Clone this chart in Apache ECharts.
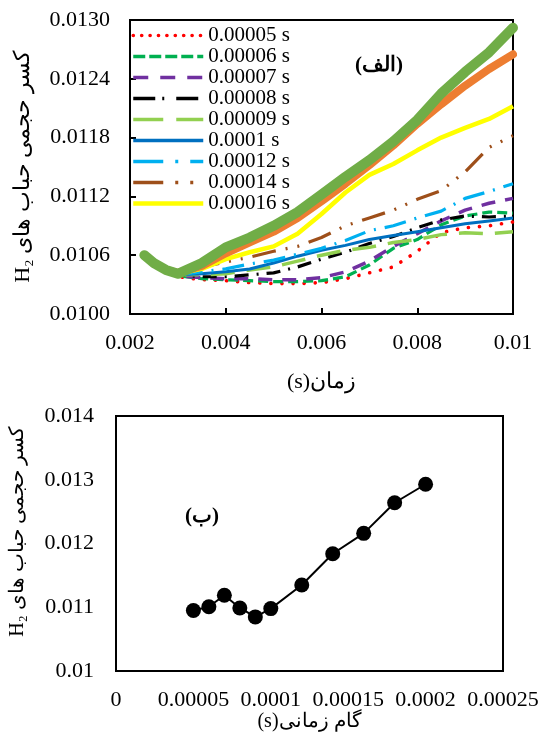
<!DOCTYPE html>
<html><head><meta charset="utf-8">
<script src="https://cdn.jsdelivr.net/npm/echarts@6/dist/echarts.min.js"></script>
<style>html,body{margin:0;padding:0;background:#fff}#c{width:544px;height:733px}</style>
</head><body><div id="c"></div>
<script>
// ---------- DATA ----------
const times = [0.0023,0.0025,0.00275,0.003,0.0035,0.004,0.0045,0.005,0.0055,0.006,0.0065,0.007,0.0075,0.008,0.0085,0.009,0.0095,0.01];
const s00005 = [0.0106,0.01052,0.01045,0.01038,0.01035,0.01034,0.01032,0.01031,0.01031,0.01032,0.01036,0.01042,0.01048,0.01064,0.01083,0.01088,0.0109,0.01094];
const s00006 = [0.0106,0.01052,0.01045,0.01039,0.01036,0.01035,0.01034,0.01033,0.01033,0.01034,0.01038,0.0105,0.01067,0.01076,0.01091,0.011,0.01104,0.01103];
const s00007 = [0.0106,0.01052,0.01045,0.01039,0.01037,0.01036,0.01036,0.01035,0.01035,0.01037,0.01043,0.01054,0.01069,0.01082,0.01095,0.01106,0.01113,0.01118];
const s00008 = [0.0106,0.01052,0.01045,0.0104,0.01038,0.01038,0.0104,0.01042,0.01048,0.01056,0.01063,0.01072,0.01079,0.01088,0.01096,0.011,0.01099,0.011];
const s00009 = [0.0106,0.01052,0.01045,0.0104,0.0104,0.01041,0.01045,0.01048,0.01054,0.0106,0.01065,0.01068,0.01073,0.01076,0.01081,0.01083,0.01082,0.01084];
const s0001  = [0.0106,0.01052,0.01045,0.0104,0.01041,0.01043,0.01046,0.01052,0.01059,0.01065,0.0107,0.01076,0.0108,0.01084,0.01088,0.01092,0.01095,0.01098];
const s00012 = [0.0106,0.01052,0.01045,0.0104,0.01043,0.01046,0.01051,0.01055,0.01061,0.01067,0.01075,0.01085,0.0109,0.01098,0.01105,0.01118,0.01125,0.01133];
const s00014 = [0.0106,0.01052,0.01045,0.0104,0.01048,0.01053,0.01058,0.01064,0.01069,0.01078,0.0109,0.01098,0.01106,0.01117,0.01126,0.01145,0.0117,0.01182];
const s00016 = [0.0106,0.01052,0.01045,0.01041,0.01046,0.01056,0.01063,0.01069,0.01082,0.01102,0.01124,0.01142,0.01153,0.01167,0.0118,0.0119,0.01199,0.01212];
const s00018 = [0.0106,0.01052,0.01045,0.01042,0.01049,0.01062,0.01073,0.01084,0.01098,0.01115,0.01133,0.01152,0.01172,0.01194,0.01214,0.01233,0.0125,0.01265];
const s00020 = [0.0106,0.01052,0.01045,0.01041,0.01052,0.01068,0.01078,0.0109,0.01104,0.01122,0.0114,0.01157,0.01176,0.01198,0.01225,0.01247,0.01267,0.01292];

const stepSizes = [0.00005,0.00006,0.00007,0.00008,0.00009,0.0001,0.00012,0.00014,0.00016,0.00018,0.0002];
const finalFractions = [0.01095,0.01101,0.01119,0.01099,0.01085,0.01098,0.01135,0.01184,0.01216,0.01264,0.01293];

const topXTicks = [0.002,0.004,0.006,0.008,0.01];
const topXLabels = ['0.002','0.004','0.006','0.008','0.01'];
const topYTicks = [0.01,0.0106,0.0112,0.0118,0.0124,0.013];
const topYLabels = ['0.0100','0.0106','0.0112','0.0118','0.0124','0.0130'];
const botXTicks = [0,0.00005,0.0001,0.00015,0.0002,0.00025];
const botXLabels = ['0','0.00005','0.0001','0.00015','0.0002','0.00025'];
const botYTicks = [0.01,0.011,0.012,0.013,0.014];
const botYLabels = ['0.01','0.011','0.012','0.013','0.014'];

const seriesNames = ['0.00005 s','0.00006 s','0.00007 s','0.00008 s','0.00009 s','0.0001 s','0.00012 s','0.00014 s','0.00016 s','0.00018 s','0.0002 s'];
const seriesValues = [s00005,s00006,s00007,s00008,s00009,s0001,s00012,s00014,s00016,s00018,s00020];

// ---------- STYLES ----------
const FONT = "'Liberation Serif','Times New Roman','DejaVu Serif',serif";
const styles = [
  {color:'#FF0000', width:3.6, type:[0.1,11], cap:'round', legType:[0.1,8.3]},
  {color:'#00B050', width:3.2, type:[10,5], cap:'butt', legType:[12,4]},
  {color:'#7030A0', width:3.5, type:[14,10], cap:'butt', legType:[15,12]},
  {color:'#000000', width:3.2, type:[14,8,2,8], cap:'butt', legType:[22,7,2,12]},
  {color:'#92D050', width:3.5, type:[24,12], cap:'butt', legType:[30,13]},
  {color:'#0070C0', width:3, type:'solid', cap:'butt', legType:'solid'},
  {color:'#00B0F0', width:3.2, type:[22,9,2,9], cap:'butt', legType:[30,12,3,12]},
  {color:'#9E4F1A', width:3.2, type:[24,10,2,10,2,10], cap:'butt', legType:[30,12,3,12,3,12]},
  {color:'#FFFF00', width:4.5, type:'solid', cap:'butt', legType:'solid'},
  {color:'#ED7D31', width:8, type:'solid', cap:'round'},
  {color:'#70AD47', width:10, type:'solid', cap:'round'}
];

function lab(ticks, labels){
  return function(v){
    for (let i=0;i<ticks.length;i++) if (Math.abs(v-ticks[i])<1e-10) return labels[i];
    return '';
  };
}

const lineSeries = seriesValues.map((vals, i) => ({
  name: seriesNames[i],
  type: 'line',
  xAxisIndex: 0, yAxisIndex: 0,
  data: times.map((t, k) => [t, vals[k]]),
  symbol: 'none',
  z: 2 + i,
  lineStyle: {color: styles[i].color, width: styles[i].width, type: styles[i].type, cap: styles[i].cap, join:'round'},
  itemStyle: {color: styles[i].color},
  emphasis: {disabled: true}
}));

const legendData = seriesNames.slice(0, 9).map((n, i) => ({
  name: n,
  itemStyle: {opacity: 0},
  lineStyle: {width: Math.max(styles[i].width, 3.5), type: styles[i].legType, cap: styles[i].cap}
}));

const axisCommon = {
  axisLine: {show: true, lineStyle: {color: '#000', width: 2}},
  splitLine: {show: false}
};
const labelStyle = {color: '#000', fontSize: 22, fontFamily: FONT};

const option = {
  animation: false,
  backgroundColor: '#fff',
  grid: [
    {left: 130, top: 20, width: 383, height: 294, show: true, borderColor: '#000', borderWidth: 2, backgroundColor: 'transparent'},
    {left: 116, top: 416, width: 387, height: 256, show: true, borderColor: '#000', borderWidth: 2, backgroundColor: 'transparent'}
  ],
  legend: {
    orient: 'vertical', left: 131, top: 25, padding: 0,
    itemWidth: 70, itemHeight: 10, itemGap: 0,
    data: legendData,
    textStyle: {color: '#000', fontSize: 21, fontFamily: FONT, lineHeight: 21},
    selectedMode: false
  },
  xAxis: [
    Object.assign({}, axisCommon, {
      gridIndex: 0, type: 'value', min: 0.002, max: 0.01,
      axisTick: {show: true, inside: true, length: 6, customValues: topXTicks, lineStyle: {color: '#000', width: 2}},
      axisLabel: Object.assign({customValues: topXTicks, formatter: lab(topXTicks, topXLabels), margin: 18}, labelStyle),
      name: '(s)زمان', nameLocation: 'middle', nameGap: 57,
      nameTextStyle: {color: '#000', fontSize: 22, fontFamily: FONT}
    }),
    Object.assign({}, axisCommon, {
      gridIndex: 1, type: 'value', min: 0, max: 0.00025,
      axisTick: {show: false},
      axisLabel: Object.assign({customValues: botXTicks, formatter: lab(botXTicks, botXLabels), margin: 18}, labelStyle),
      name: '(s)گام زمانی', nameLocation: 'middle', nameGap: 36,
      nameTextStyle: {color: '#000', fontSize: 20, fontFamily: FONT}
    })
  ],
  yAxis: [
    Object.assign({}, axisCommon, {
      gridIndex: 0, type: 'value', min: 0.01, max: 0.013,
      axisTick: {show: true, inside: true, length: 6, customValues: topYTicks, lineStyle: {color: '#000', width: 2}},
      axisLabel: Object.assign({customValues: topYTicks, formatter: lab(topYTicks, topYLabels), margin: 20}, labelStyle),
      name: 'H₂ کسر حجمی حباب های', nameLocation: 'middle', nameGap: 96, nameRotate: 90,
      nameTextStyle: {color: '#000', fontSize: 22, fontFamily: FONT}
    }),
    Object.assign({}, axisCommon, {
      gridIndex: 1, type: 'value', min: 0.01, max: 0.014,
      axisTick: {show: false},
      axisLabel: Object.assign({customValues: botYTicks, formatter: lab(botYTicks, botYLabels), margin: 22}, labelStyle),
      name: 'H₂ کسر حجمی حباب های', nameLocation: 'middle', nameGap: 88, nameRotate: 90,
      nameTextStyle: {color: '#000', fontSize: 20, fontFamily: FONT, padding: [0, 0, 0, 24]}
    })
  ],
  graphic: [
    {type: 'text', left: 355, top: 55, style: {text: '(الف)', fill: '#000', font: 'bold 21px ' + FONT}},
    {type: 'text', left: 185, top: 506, style: {text: '(ب)', fill: '#000', font: 'bold 21px ' + FONT}}
  ],
  series: lineSeries.concat([{
    name: 'final',
    type: 'line',
    xAxisIndex: 1, yAxisIndex: 1,
    data: stepSizes.map((s, i) => [s, finalFractions[i]]),
    symbol: 'circle', symbolSize: 15, showSymbol: true,
    lineStyle: {color: '#000', width: 2},
    itemStyle: {color: '#000'},
    emphasis: {disabled: true}
  }])
};

const chart = echarts.init(document.getElementById('c'), null, {renderer: 'canvas'});
chart.setOption(option);
</script>
</body></html>
